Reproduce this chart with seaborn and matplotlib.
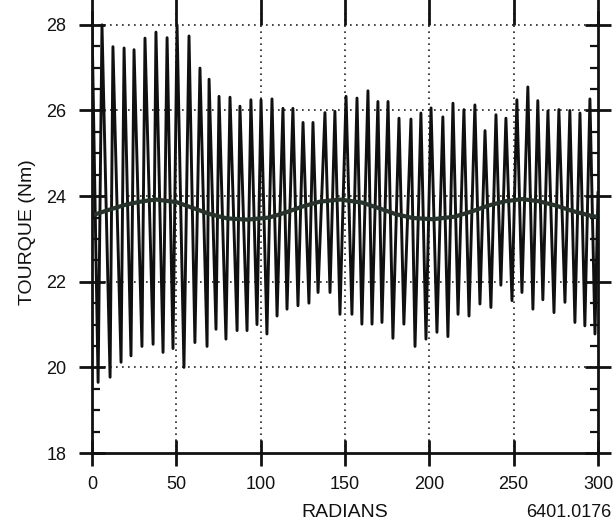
import numpy as np
import pandas as pd
import matplotlib
matplotlib.use("Agg")
import matplotlib.pyplot as plt
import seaborn as sns
from matplotlib.ticker import MultipleLocator

# peaks of the torque ripple (radians, Nm)
peak_x = [0.0, 5.9, 12.4, 19.0, 24.9, 31.4, 37.9, 44.5, 50.4, 57.5, 64.0, 69.4, 75.3, 81.8,
          87.7, 94.2, 100.2, 106.7, 113.2, 119.1, 125.1, 131.0, 138.1, 144.0, 150.6, 157.1,
          163.6, 169.5, 175.5, 182.0, 189.1, 195.0, 201.0, 208.0, 214.0, 220.5, 227.0, 233.0,
          239.5, 245.4, 251.9, 258.4, 264.3, 270.3, 276.8, 283.3, 289.3, 295.2, 300.0]
peak_y = [28.0, 28.0, 27.49, 27.46, 27.42, 27.69, 27.83, 27.70, 28.0, 27.74, 26.99, 26.73,
          26.33, 26.31, 26.10, 26.25, 26.25, 26.27, 26.05, 26.05, 25.72, 25.72, 25.95, 25.98,
          26.33, 26.29, 26.46, 26.21, 26.21, 25.82, 25.80, 25.94, 26.06, 25.85, 26.17, 26.02,
          26.13, 25.53, 25.90, 25.82, 26.25, 26.55, 26.23, 25.99, 26.02, 26.00, 25.94, 26.27,
          24.1]

# troughs
trough_x = [3.6, 10.7, 17.2, 23.1, 29.6, 36.2, 42.1, 48.0, 54.5, 61.0, 68.2, 73.5, 79.4,
            86.0, 91.9, 97.8, 103.7, 109.7, 115.6, 122.1, 128.6, 134.0, 141.1, 147.0, 154.1,
            160.0, 166.0, 171.9, 178.4, 184.9, 191.5, 198.0, 204.5, 211.0, 217.0, 223.5,
            230.0, 236.5, 242.4, 249.0, 254.9, 261.4, 267.3, 273.9, 280.4, 286.3, 292.2, 298.2]
trough_y = [19.65, 19.77, 20.12, 20.27, 20.49, 20.54, 20.35, 20.44, 20.0, 20.58, 20.49, 20.89,
            20.66, 20.86, 20.86, 21.0, 20.78, 21.2, 21.36, 21.44, 21.5, 21.75, 21.75, 21.24,
            21.24, 21.01, 21.01, 21.05, 20.68, 21.01, 20.49, 20.66, 20.82, 20.72, 21.24, 21.2,
            21.48, 21.4, 21.92, 21.56, 21.75, 21.36, 21.58, 21.28, 21.52, 21.05, 20.97, 20.78]

# mean torque curve
mean_x = [0, 10, 20, 30, 38, 50, 60, 70, 80, 92, 105, 115, 125, 135, 147, 160, 170, 180,
          190, 202, 215, 225, 235, 245, 255, 265, 275, 285, 295, 300]
mean_y = [23.55, 23.68, 23.80, 23.88, 23.92, 23.86, 23.72, 23.58, 23.48, 23.45, 23.50, 23.62,
          23.76, 23.87, 23.92, 23.85, 23.72, 23.58, 23.49, 23.46, 23.52, 23.64, 23.78, 23.88,
          23.93, 23.88, 23.78, 23.65, 23.55, 23.51]

ripple = pd.DataFrame({"rad": peak_x + trough_x, "torque": peak_y + trough_y})
ripple = ripple.sort_values("rad")
mean_df = pd.DataFrame({"rad": mean_x, "torque": mean_y})

sns.set_theme(style="ticks")
plt.rcParams["font.family"] = ["Liberation Sans", "DejaVu Sans"]

fig = plt.figure(figsize=(6.16, 5.27), dpi=100)
ax = fig.add_axes([0.1494, 0.1404, 0.8214, 0.8368])

sns.lineplot(data=ripple, x="rad", y="torque", sort=False, estimator=None,
             color="#101010", lw=2.1, ax=ax)
sns.lineplot(data=mean_df, x="rad", y="torque", estimator=None,
             color="#25332b", lw=3.0, ax=ax)

ax.set_xlim(0, 300)
ax.set_ylim(18, 28.3)
ax.xaxis.set_major_locator(MultipleLocator(50))
ax.yaxis.set_minor_locator(MultipleLocator(0.5))
ax.set_yticks([18, 20, 22, 24, 26, 28])

# dotted grid
for gx in [50, 100, 150, 200, 250]:
    ax.axvline(gx, color="#222222", lw=1.2, ls=(0, (1, 2.6)), zorder=0)
for gy in [20, 22, 24, 26, 28]:
    ax.axhline(gy, color="#222222", lw=1.2, ls=(0, (1, 2.6)), zorder=0)

ax.spines["top"].set_visible(False)
for s in ["left", "right", "bottom"]:
    ax.spines[s].set_linewidth(2.0)
    ax.spines[s].set_color("#111111")

ax.tick_params(axis="y", which="major", left=True, right=True, direction="inout",
               length=19, width=2.0, labelsize=13, pad=9, colors="#111111")
ax.tick_params(axis="y", which="minor", left=True, right=True, direction="in",
               length=5.5, width=1.6, colors="#111111")
ax.tick_params(axis="x", which="major", bottom=True, top=True, direction="inout",
               length=19, width=2.0, labelsize=13, pad=7, colors="#111111")
for lab in ax.get_xticklabels() + ax.get_yticklabels():
    lab.set_color("#111111")

ax.set_xlabel("RADIANS", fontsize=14, labelpad=8, color="#111111")
ax.set_ylabel("TOURQUE (Nm)", fontsize=14, labelpad=7, color="#111111")
fig.text(0.992, 0.012, "6401.0176", ha="right", va="bottom", fontsize=13,
         color="#111111")

fig.savefig("out.png", dpi=100, facecolor="white")
